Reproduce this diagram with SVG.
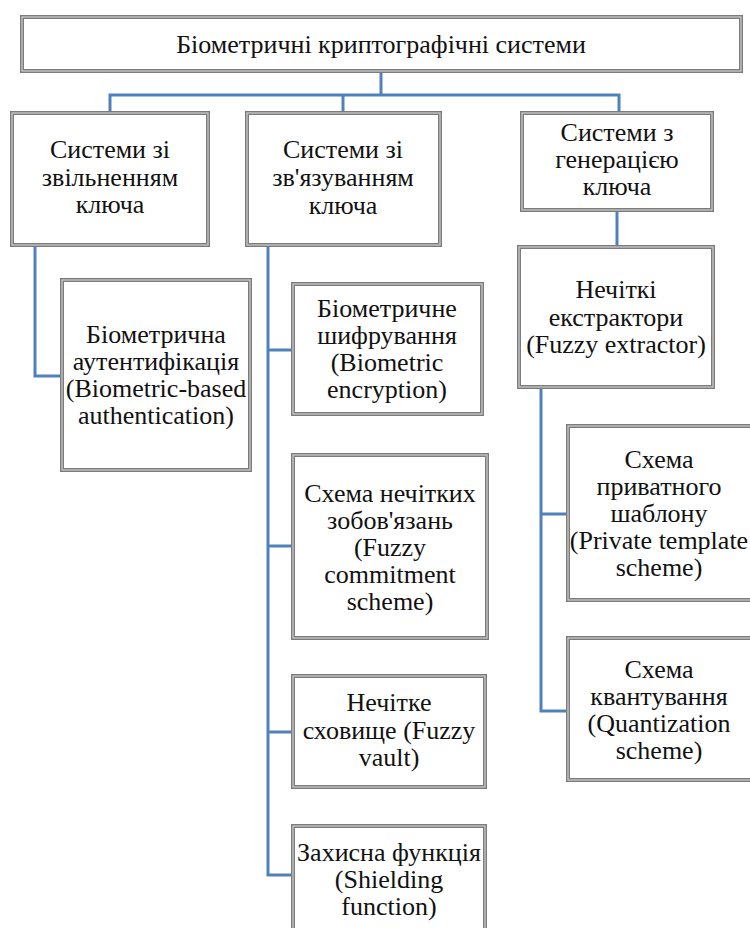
<svg xmlns="http://www.w3.org/2000/svg" width="750" height="928" viewBox="0 0 750 928">
<style>
.b{fill:#fff;stroke:#7c7c7c;stroke-width:4}
.bi{fill:none;stroke:#cfcfcf;stroke-width:1.2}
.c{fill:none;stroke:#4f81bd;stroke-width:3;stroke-linejoin:miter}
.t{fill:#111;text-anchor:middle;font-family:'Liberation Serif','Times New Roman',serif;font-size:26px}
</style>
<rect width="750" height="928" fill="#fff"/>
<g id="connectors">
<path class="c" d="M381,71 V95 M110,113 V95 H619 V113 M343,95 V113"/>
<path class="c" d="M35,245 V376 H62"/>
<path class="c" d="M268,245 V875 H293 M268,350 H293 M268,546 H293 M268,732 H293"/>
<path class="c" d="M617,210 V247"/>
<path class="c" d="M541,387 V711 H568 M541,514 H568"/>
</g>
<g class="t">
<g id="root">
<rect class="b" x="22" y="17" width="719" height="54"/><rect class="bi" x="22" y="17" width="719" height="54"/>
<text x="381" y="53">Біометричні криптографічні системи</text>
</g>
<g id="release">
<rect class="b" x="12" y="113" width="196" height="132"/><rect class="bi" x="12" y="113" width="196" height="132"/>
<text x="110" y="158">Системи зі</text><text x="110" y="186">звільненням</text><text x="110" y="213">ключа</text>
</g>
<g id="binding">
<rect class="b" x="247" y="113" width="193" height="132"/><rect class="bi" x="247" y="113" width="193" height="132"/>
<text x="343" y="158">Системи зі</text><text x="343" y="186">зв'язуванням</text><text x="343" y="214">ключа</text>
</g>
<g id="generation">
<rect class="b" x="522" y="113" width="190" height="97"/><rect class="bi" x="522" y="113" width="190" height="97"/>
<text x="617" y="141">Системи з</text><text x="617" y="168">генерацією</text><text x="617" y="195">ключа</text>
</g>
<g id="auth">
<rect class="b" x="62" y="280" width="188" height="190"/><rect class="bi" x="62" y="280" width="188" height="190"/>
<text x="156" y="343">Біометрична</text><text x="156" y="370">аутентифікація</text><text x="156" y="397">(Biometric-based</text><text x="156" y="424">authentication)</text>
</g>
<g id="encryption">
<rect class="b" x="293" y="284" width="189" height="130"/><rect class="bi" x="293" y="284" width="189" height="130"/>
<text x="387" y="317">Біометричне</text><text x="387" y="344">шифрування</text><text x="387" y="371">(Biometric</text><text x="387" y="398">encryption)</text>
</g>
<g id="commitment">
<rect class="b" x="293" y="455" width="194" height="183"/><rect class="bi" x="293" y="455" width="194" height="183"/>
<text x="390" y="502">Схема нечітких</text><text x="390" y="529">зобов'язань</text><text x="390" y="556">(Fuzzy</text><text x="390" y="583">commitment</text><text x="390" y="610">scheme)</text>
</g>
<g id="vault">
<rect class="b" x="293" y="676" width="192" height="111"/><rect class="bi" x="293" y="676" width="192" height="111"/>
<text x="389" y="711">Нечітке</text><text x="389" y="739">сховище (Fuzzy</text><text x="389" y="766">vault)</text>
</g>
<g id="shielding">
<rect class="b" x="293" y="826" width="192" height="110"/><rect class="bi" x="293" y="826" width="192" height="110"/>
<text x="389" y="861">Захисна функція</text><text x="389" y="888">(Shielding</text><text x="389" y="915">function)</text>
</g>
<g id="extractor">
<rect class="b" x="519" y="247" width="194" height="140"/><rect class="bi" x="519" y="247" width="194" height="140"/>
<text x="616" y="298">Нечіткі</text><text x="616" y="326">екстрактори</text><text x="616" y="353">(Fuzzy extractor)</text>
</g>
<g id="private">
<rect class="b" x="568" y="426" width="190" height="174"/><rect class="bi" x="568" y="426" width="190" height="174"/>
<text x="659" y="468">Схема</text><text x="659" y="495">приватного</text><text x="659" y="522">шаблону</text><text x="659" y="549">(Private template</text><text x="659" y="576">scheme)</text>
</g>
<g id="quantization">
<rect class="b" x="568" y="638" width="190" height="142"/><rect class="bi" x="568" y="638" width="190" height="142"/>
<text x="659" y="678">Схема</text><text x="659" y="705">квантування</text><text x="659" y="732">(Quantization</text><text x="659" y="759">scheme)</text>
</g>
</g>
</svg>
